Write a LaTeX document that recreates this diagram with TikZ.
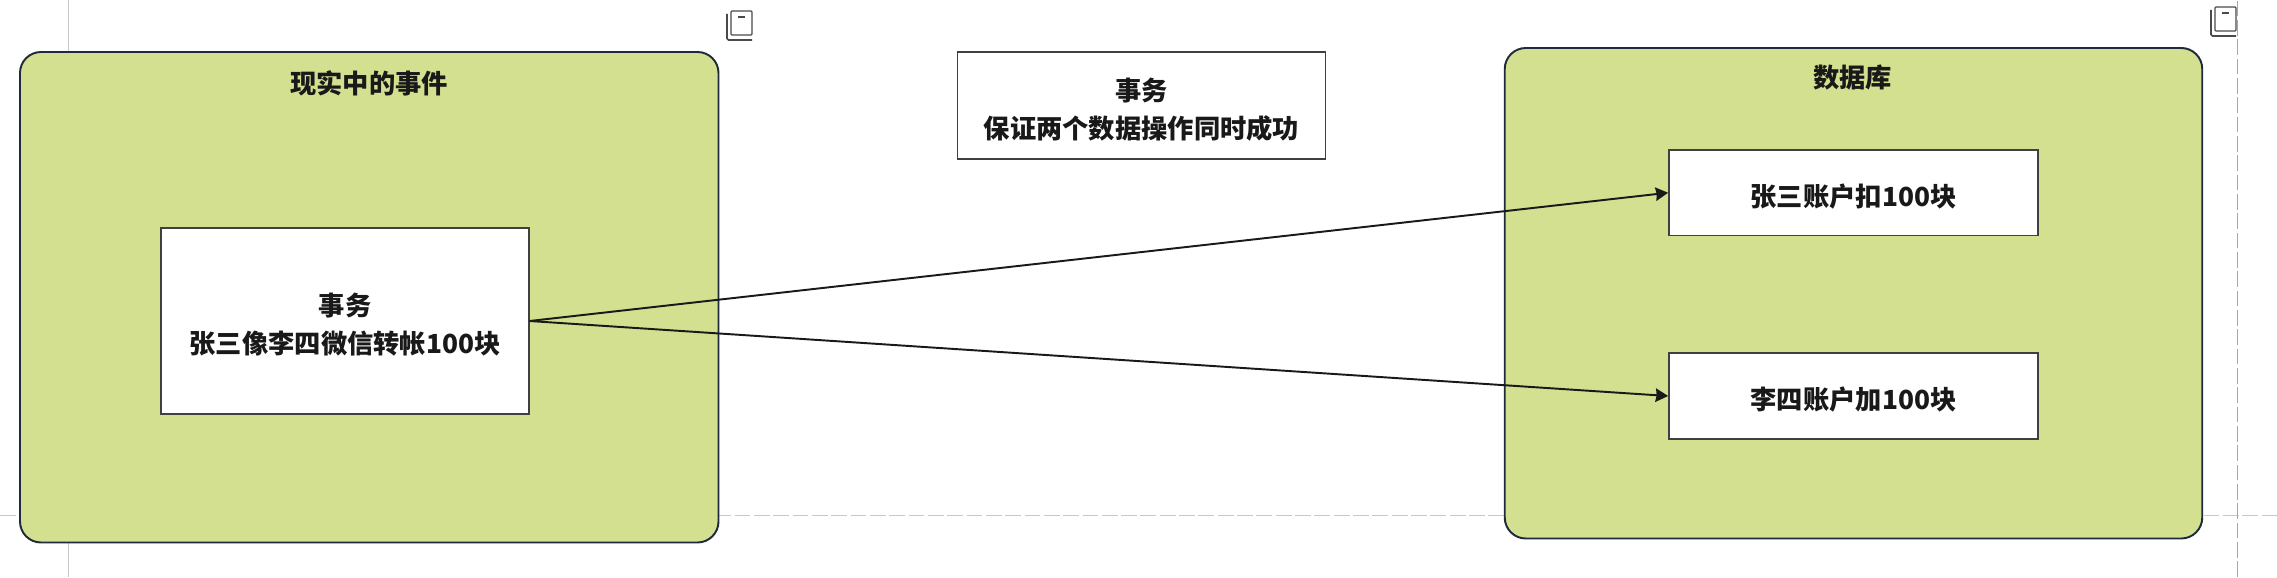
\documentclass[tikz,border=0pt]{standalone}
\usepackage{fontspec}
\usepackage{xcolor}
\usetikzlibrary{arrows.meta}
\newfontfamily\cjk{Noto Sans CJK SC}
\definecolor{boxgreen}{HTML}{D2E08F}
\definecolor{boxline}{HTML}{1F2A3C}
\definecolor{pageline}{HTML}{C8C8C8}
\definecolor{iconline}{HTML}{4A4A4A}
% pushes the text of a white box a little below the middle
\newcommand{\toprule}{\rule{0pt}{0.6cm}}
\tikzset{
    grouptext/.style={font=\cjk\bfseries\fontsize{14.95}{21.6}\selectfont, text=black!90, align=center, inner sep=0pt},
    groupbox/.style={draw=boxline, fill=boxgreen, line width=1.1pt, rounded corners=0.42cm},
    whitebox/.style={draw=black!75, fill=white, line width=1pt, grouptext},
    flowline/.style={draw=black!90, line width=1.1pt, -{Stealth[length=0.25cm, width=0.27cm, inset=0.6pt]}},
    guideline/.style={draw=pageline, line width=0.4pt},
    guidedash/.style={guideline, dash pattern=on 9pt off 2pt},
    bookicon/.pic={
        \draw[iconline, line width=0.7pt, rounded corners=0.02cm] (0.08, 0.1) rectangle (0.5, 0.58);
        \draw[iconline, line width=0.9pt, rounded corners=0.03cm] (0, 0.52) -- (0, 0) -- (0.5, 0);
        \draw[iconline, line width=0.8pt] (0.22, 0.46) -- (0.36, 0.46);
    }
}

\begin{document}
\begin{tikzpicture}
    \useasboundingbox (0, 0) rectangle (45.54, 11.54);

    % Page guides
    \draw[guidedash] (0, 1.24) -- (45.54, 1.24);
    \draw[guideline] (1.37, 0) -- (1.37, 11.54);
    \draw[guidedash, draw=black!35] (44.75, 0) -- (44.75, 11.54);

    % Nodes
    \node[groupbox, minimum width=13.97cm, minimum height=9.81cm] (event) at (7.385, 5.595) {};
    \node[groupbox, minimum width=13.95cm, minimum height=9.81cm] (database) at (37.07, 5.675) {};
    \node[grouptext] (eventtitle) at (7.38, 9.88) {现实中的事件};
    \node[grouptext] (dbtitle) at (37.05, 9.98) {数据库};
    \node[whitebox, minimum width=7.35cm, minimum height=3.72cm] (transfer) at (6.9, 5.12) {\toprule 事务\\张三像李四微信转帐100块};
    \node[whitebox, minimum width=7.36cm, minimum height=2.14cm] (note) at (22.83, 9.43) {\toprule 事务\\保证两个数据操作同时成功};
    \node[whitebox, minimum width=7.38cm, minimum height=1.71cm] (debit) at (37.07, 7.685) {\toprule 张三账户扣100块};
    \node[whitebox, minimum width=7.38cm, minimum height=1.71cm] (credit) at (37.07, 3.62) {\toprule 李四账户加100块};

    % Icons
    \pic at (14.54, 10.74) {bookicon};
    \pic at (44.22, 10.82) {bookicon};

    % Lines
    \draw[flowline] (transfer.east) -- (debit.west);
    \draw[flowline] (transfer.east) -- (credit.west);
\end{tikzpicture}
\end{document}
